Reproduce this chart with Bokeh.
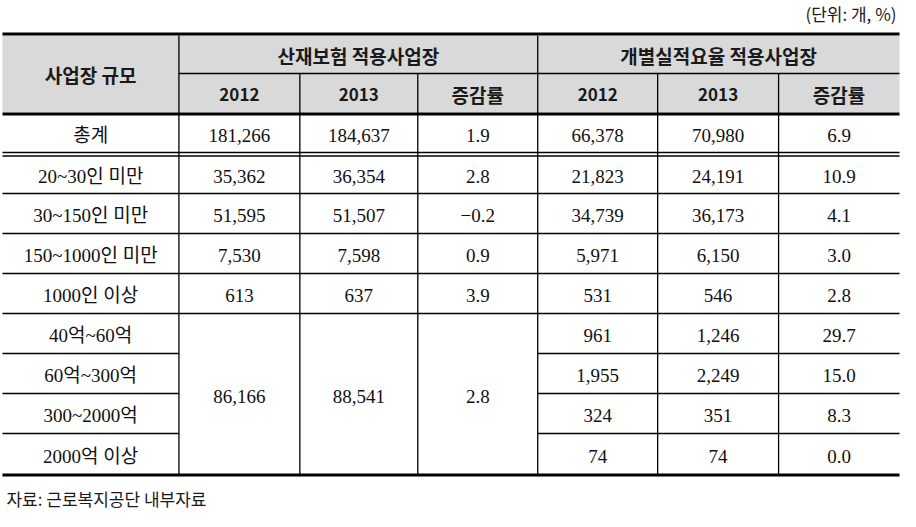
from bokeh.plotting import figure
from bokeh.models import Range1d, ColumnDataSource
from bokeh.core.properties import value
from bokeh.embed import file_html
from bokeh.resources import INLINE

# ---------------- data ----------------
size_labels = ["총계", "20~30인 미만", "30~150인 미만", "150~1000인 미만", "1000인 이상",
               "40억~60억", "60억~300억", "300~2000억", "2000억 이상"]
group_labels = ["산재보험 적용사업장", "개별실적요율 적용사업장"]
year_labels = ["2012", "2013", "증감률"]
# 산재보험 적용사업장 (last value is the merged 40억 이상 total)
ind_2012 = [181266, 35362, 51595, 7530, 613, 86166]
ind_2013 = [184637, 36354, 51507, 7598, 637, 88541]
ind_rate = [1.9, 2.8, -0.2, 0.9, 3.9, 2.8]
# 개별실적요율 적용사업장
exp_2012 = [66378, 21823, 34739, 5971, 531, 961, 1955, 324, 74]
exp_2013 = [70980, 24191, 36173, 6150, 546, 1246, 2249, 351, 74]
exp_rate = [6.9, 10.9, 4.1, 3.0, 2.8, 29.7, 15.0, 8.3, 0.0]
unit_note = "(단위: 개, %)"
source_note = "자료: 근로복지공단 내부자료"

# ---------------- layout (screen pixels) ----------------
col_edges = [2, 180, 302, 421, 542, 663, 785, 907]
hdr_top, hdr_mid, hdr_bot = 35, 73, 113
row_edges = [113, 153, 193, 233, 273, 313, 353, 393, 433, 474]
row_top_fix = [113, 155, 193, 233, 273, 313, 353, 393, 433]
TXT_OFF = 2

SERIF = value("'Liberation Serif', 'Noto Sans CJK KR'")
SANS = value("Noto Sans CJK KR")

p = figure(width=900, height=511, output_backend="svg", toolbar_location=None,
           x_range=Range1d(0, 908), y_range=Range1d(511, 0), min_border=0)
p.axis.visible = False
p.grid.visible = False
p.outline_line_color = None
p.background_fill_color = "white"
p.border_fill_color = "white"

# header fill
p.quad(left=[col_edges[0]], right=[col_edges[-1]], top=[hdr_top], bottom=[hdr_bot - 1],
       fill_color="#d9d9d9", line_color=None)

def cx(i):
    return (col_edges[i] + col_edges[i + 1]) / 2

def fmt_int(v):
    return f"{v:,}"

def fmt_rate(v):
    s = f"{abs(v):.1f}"
    return ("\u2212" + s) if v < 0 else s

# ---------- header text ----------
hx, hy, ht, hs = [], [], [], []
hx.append(cx(0)); hy.append((hdr_top + hdr_bot) / 2); ht.append("사업장 규모"); hs.append("19px")
hx.append((col_edges[1] + col_edges[4]) / 2); hy.append((hdr_top + hdr_mid) / 2 + 1); ht.append(group_labels[0]); hs.append("19px")
hx.append((col_edges[4] + col_edges[7]) / 2); hy.append((hdr_top + hdr_mid) / 2 + 1); ht.append(group_labels[1]); hs.append("19px")
for g in range(2):
    for k in range(3):
        hx.append(cx(1 + g * 3 + k)); hy.append((hdr_mid + hdr_bot) / 2 + 1)
        ht.append(year_labels[k]); hs.append("17px" if k < 2 else "19px")
p.text(x="x", y="y", text="t", text_font_size="s",
       source=ColumnDataSource(dict(x=hx, y=hy, t=ht, s=hs)),
       text_font=SANS, text_font_style="bold", text_align="center",
       text_baseline="middle", text_color="#1a1a1a")

# ---------- body text ----------
bx, by, bt = [], [], []
n = len(size_labels)
for r in range(n):
    yc = (row_top_fix[r] + row_edges[r + 1]) / 2 + TXT_OFF
    bx.append(cx(0)); by.append(yc); bt.append(size_labels[r])
    if r < 5:
        for c, txt in zip((1, 2, 3), (fmt_int(ind_2012[r]), fmt_int(ind_2013[r]), fmt_rate(ind_rate[r]))):
            bx.append(cx(c)); by.append(yc); bt.append(txt)
    for c, txt in zip((4, 5, 6), (fmt_int(exp_2012[r]), fmt_int(exp_2013[r]), fmt_rate(exp_rate[r]))):
        bx.append(cx(c)); by.append(yc); bt.append(txt)
# merged cells (40억 이상)
ym = (row_edges[5] + row_edges[9]) / 2 + TXT_OFF
for c, txt in zip((1, 2, 3), (fmt_int(ind_2012[5]), fmt_int(ind_2013[5]), fmt_rate(ind_rate[5]))):
    bx.append(cx(c)); by.append(ym); bt.append(txt)
p.text(x="x", y="y", text="t", source=ColumnDataSource(dict(x=bx, y=by, t=bt)),
       text_font=SERIF, text_font_size="19px", text_align="center",
       text_baseline="middle", text_color="#111111")

# ---------- lines ----------
L, R = col_edges[0], col_edges[-1]
# thick rules
p.segment(x0=[L, L, L], y0=[33.5, 113.5, 474.5], x1=[R, R, R], y1=[33.5, 113.5, 474.5],
          line_color="black", line_width=3)
# thin horizontal rules
hx0 = [col_edges[1], L, L, L, L, L, L]
hy0 = [hdr_mid, 152, 155.5, 193, 233, 273, 313]
hx1 = [R] * 7
for yy in row_edges[6:9]:
    hx0 += [L, col_edges[4]]; hy0 += [yy, yy]; hx1 += [col_edges[1], R]
p.segment(x0=hx0, y0=hy0, x1=hx1, y1=hy0, line_color="black", line_width=1.3)
# vertical rules
vx = [col_edges[1], col_edges[4], col_edges[2], col_edges[3], col_edges[5], col_edges[6]]
vy0 = [hdr_top, hdr_top, hdr_mid, hdr_mid, hdr_mid, hdr_mid]
p.segment(x0=vx, y0=vy0, x1=vx, y1=[474] * 6, line_color="black", line_width=1.3)

# ---------- notes ----------
p.text(x=[904], y=[13], text=[unit_note], text_font=SANS, text_font_size="17px",
       text_align="right", text_baseline="middle", text_color="#1a1a1a")
p.text(x=[6], y=[498], text=[source_note], text_font=SANS, text_font_size="17px",
       text_align="left", text_baseline="middle", text_color="#1a1a1a")

open("out.html", "w").write(file_html(p, INLINE))
